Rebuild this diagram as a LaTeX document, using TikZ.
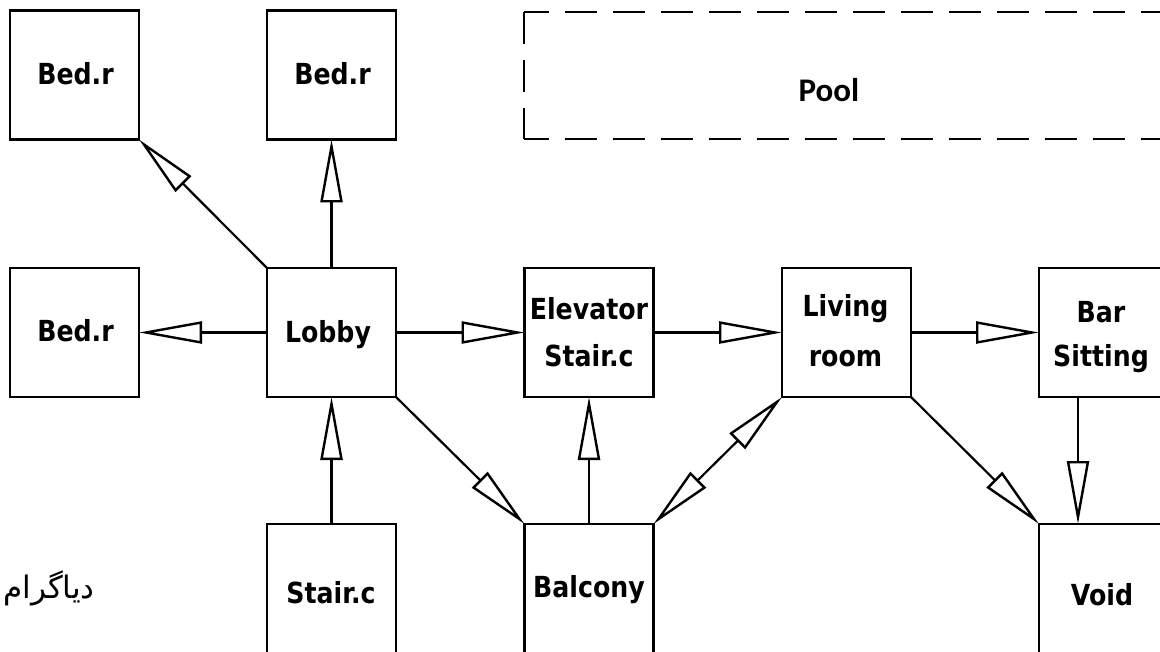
\documentclass[tikz,border=0pt]{standalone}
\usepackage{fontspec}
\usetikzlibrary{arrows.meta}
\TeXXeTstate=1
\newfontfamily\boxfont{DejaVu Sans}[FakeStretch=0.87]
\newfontfamily\poolfont{Carlito}
\newfontfamily\persfont[Script=Arabic]{DejaVu Sans}
\tikzset{
  room/.style={draw, line width=2.4pt, minimum width=129pt, minimum height=129pt, inner sep=0pt, outer sep=0pt},
  lbl/.style={anchor=base, inner sep=0pt, font=\boxfont\bfseries\fontsize{29pt}{34pt}\selectfont},
  tip/.tip={Triangle[length=63pt, width=22pt, fill=white, line width=2.4pt]},
  conn/.style={line width=2.2pt, -tip},
  dconn/.style={line width=2.2pt, tip-tip},
  pooldash/.style={line width=2.4pt, dash pattern=on 32pt off 16pt},
}
\begin{document}
\begin{tikzpicture}[x=1pt, y=-1pt]
\clip (0,0) rectangle (1160,652);
\fill[white] (0,0) rectangle (1160,652);
% rooms
\node[room] (bed1) at (74.5,75) {};
\node[room] (bed2) at (331.5,75) {};
\node[room] (bed3) at (74.5,332.5) {};
\node[room] (lobby) at (331.5,332.5) {};
\node[room] (elev) at (589,332.5) {};
\node[room] (living) at (846.5,332.5) {};
\node[room] (bar) at (1103.5,332.5) {};
\node[room] (stair) at (331.5,588.5) {};
\node[room] (balc) at (589,588.5) {};
\node[room] (void) at (1103.5,588.5) {};
\coordinate (bx) at (1078,0);
% pool (dashed, open to the right)
\node[minimum width=676pt, minimum height=127pt, inner sep=0pt, outer sep=0pt] (pool) at (862,75.5) {};
\draw[pooldash, dash phase=7pt] (pool.north west) -- (pool.north east);
\draw[pooldash, dash phase=7pt] (pool.south west) -- (pool.south east);
\draw[pooldash] (pool.north west) -- (pool.south west);
\node[anchor=base, inner sep=0pt, font=\poolfont\bfseries\fontsize{33pt}{38pt}\selectfont] (poolT) at (829,102) {Pool};
% labels
\node[lbl] (bed1T) at (75.5,85) {Bed.r};
\node[lbl] (bed2T) at (332.5,85) {Bed.r};
\node[lbl] (bed3T) at (75.5,342) {Bed.r};
\node[lbl] (lobbyT) at (328,343) {Lobby};
\node[lbl] (elevT1) at (589,320) {Elevator};
\node[lbl] (elevT2) at (589,367) {Stair.c};
\node[lbl] (livT1) at (845.5,317) {Living};
\node[lbl] (livT2) at (845.5,367) {room};
\node[lbl] (barT1) at (1101,323) {Bar};
\node[lbl] (barT2) at (1101,367) {Sitting};
\node[lbl] (stairT) at (331,603) {Stair.c};
\node[lbl] (balcT) at (589,597) {Balcony};
\node[lbl] (voidT) at (1102,605) {Void};
\node[anchor=base, inner sep=0pt, font=\persfont\fontsize{31pt}{36pt}\selectfont] (pers) at (49,598) {\beginR دیاگرام\endR};
% connectors
\draw[conn] (lobby.north west) -- (bed1.south east);
\draw[conn] (lobby.north) -- (bed2.south);
\draw[conn] (lobby.west) -- (bed3.east);
\draw[conn] (stair.north) -- (lobby.south);
\draw[conn] (lobby.east) -- (elev.west);
\draw[conn] (lobby.south east) -- (balc.north west);
\draw[conn] (balc.north) -- (elev.south);
\draw[dconn] (balc.north east) -- (living.south west);
\draw[conn] (elev.east) -- (living.west);
\draw[conn] (living.east) -- (bar.west);
\draw[conn] (living.south east) -- (void.north west);
\draw[conn] (bar.south -| bx) -- (void.north -| bx);
\end{tikzpicture}
\end{document}
